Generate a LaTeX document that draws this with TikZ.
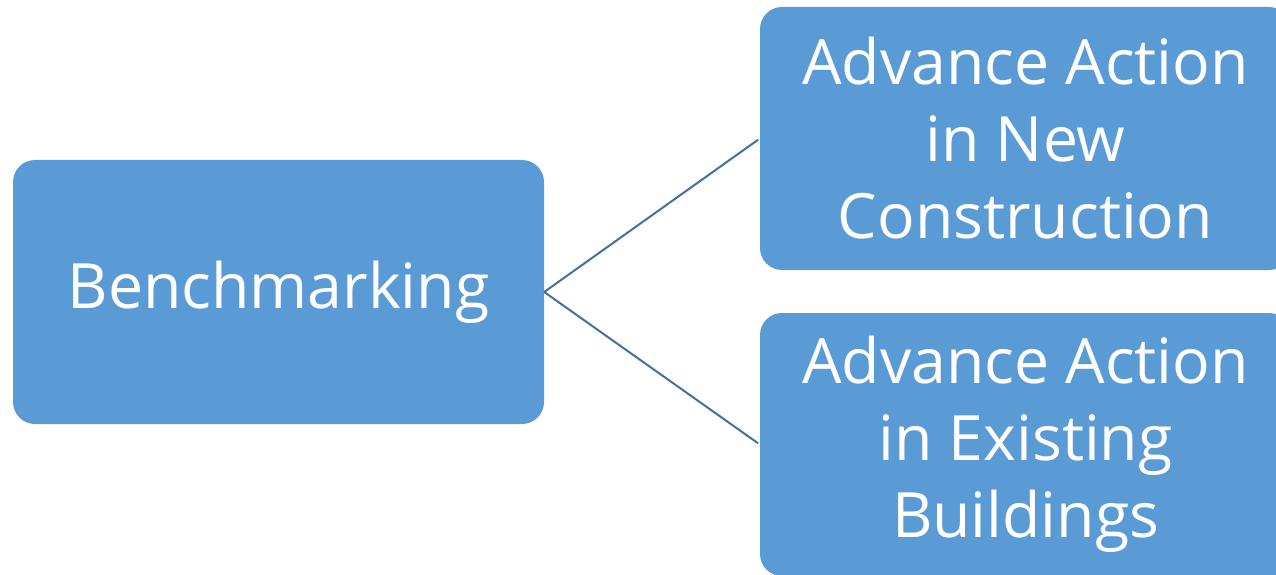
\documentclass[tikz,border=0pt]{standalone}
\usepackage{fontspec}
\setmainfont{Open Sans}
\definecolor{boxfill}{HTML}{5B9BD5}
\definecolor{linkcol}{HTML}{41719C}
\begin{document}
\begin{tikzpicture}[x=1pt,y=1pt,
  card/.style={fill=boxfill, rounded corners=22pt, minimum width=531pt,
    inner sep=0pt, text=white, align=center,
    font=\fontsize{62.5}{77}\selectfont},
  link/.style={draw=linkcol, line width=2pt, shorten >=2pt}]
\useasboundingbox (0,0) rectangle (1276,574);
\clip (0,0) rectangle (1276,574);
\node[card, minimum height=264pt] (bench) at (278.5,282) {Benchmarking};
\node[card, minimum height=263pt] (newc) at (1025.5,435.5)
  {Advance Action\\in New\\Construction};
\node[card, minimum height=263pt] (exist) at (1025.5,129.5)
  {Advance Action\\in Existing\\Buildings};
\draw[link] (bench.east) -- (newc.west);
\draw[link] (bench.east) -- (exist.west);
\end{tikzpicture}
\end{document}
